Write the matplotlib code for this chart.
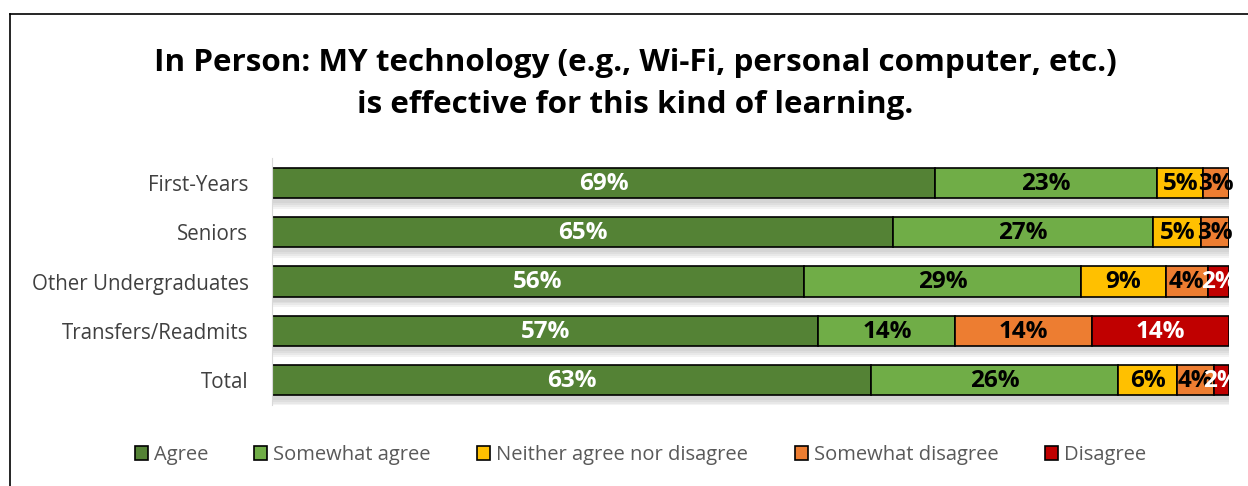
import matplotlib.pyplot as plt
import numpy as np
from matplotlib.lines import Line2D

groups = ["First-Years", "Seniors", "Other Undergraduates", "Transfers/Readmits", "Total"]
responses = ["Agree", "Somewhat agree", "Neither agree nor disagree", "Somewhat disagree", "Disagree"]
agree = [69.3, 64.9, 55.6, 57.1, 62.6]
somewhat_agree = [23.2, 27.2, 28.9, 14.3, 25.8]
neither = [4.8, 5.0, 8.9, 0.0, 6.2]
somewhat_disagree = [2.7, 2.9, 4.4, 14.3, 3.8]
disagree = [0.0, 0.0, 2.2, 14.3, 1.6]

colors = ["#548235", "#70ad47", "#ffc000", "#ed7d31", "#c00000"]
text_colors = ["white", "black", "black", "black", "white"]

plt.rcParams["font.family"] = ["Open Sans", "DejaVu Sans"]

fig = plt.figure(figsize=(12.48, 4.86), dpi=100)
ax = fig.add_axes([272 / 1248, 1 - 405 / 486, (1229 - 272) / 1248, (405 - 158) / 486])

series = [agree, somewhat_agree, neither, somewhat_disagree, disagree]
y = np.arange(len(groups))
left = np.zeros(len(groups))
bar_h = 0.61

# soft shadow under the bars
total = np.sum(series, axis=0)
for k in range(4):
    ax.barh(y + 0.1 + 0.04 * k, total + 0.2, height=bar_h, left=0, color="grey", alpha=0.09, zorder=1)

for vals, col, tcol, name in zip(series, colors, text_colors, responses):
    vals = np.array(vals)
    ax.barh(y, vals, height=bar_h, left=left, color=col, edgecolor="black", linewidth=1.2,
            label=name, zorder=2)
    for i, v in enumerate(vals):
        if v > 0:
            ax.text(left[i] + v / 2, y[i] + 0.02, "{:.0f}%".format(v), ha="center", va="center",
                    color=tcol, fontsize=17.5, fontweight="bold", zorder=3)
    left += vals

ax.set_xlim(0, 100)
ax.set_ylim(len(groups) - 0.5, -0.5)
ax.set_yticks(y)
ax.set_yticklabels(groups, fontsize=14.8, color="#404040")
ax.tick_params(axis="y", length=0, pad=17)
ax.set_xticks([])
for s in ["top", "right", "bottom"]:
    ax.spines[s].set_visible(False)
ax.spines["left"].set_color("#d9d9d9")

fig.text(0.509, 1 - 63 / 486, "In Person: MY technology (e.g., Wi-Fi, personal computer, etc.)",
         ha="center", va="center", fontsize=22.6, fontweight="bold")
fig.text(0.509, 1 - 105 / 486, "is effective for this kind of learning.",
         ha="center", va="center", fontsize=22.6, fontweight="bold")

handles, labels = ax.get_legend_handles_labels()
leg = fig.legend(handles, labels, loc="center", bbox_to_anchor=(0.513, 1 - 455 / 486), ncol=5,
                 frameon=False, fontsize=14.5, handlelength=0.65, handleheight=0.65, handletextpad=0.3,
                 columnspacing=2.3)
for t in leg.get_texts():
    t.set_color("#595959")

# outer frame
fig.add_artist(Line2D([10 / 1248, 10 / 1248], [0, 1 - 14 / 486], transform=fig.transFigure,
                      color="black", linewidth=1.2))
fig.add_artist(Line2D([10 / 1248, 1], [1 - 14 / 486, 1 - 14 / 486], transform=fig.transFigure,
                      color="black", linewidth=1.2))

fig.savefig("out.png", dpi=100)
